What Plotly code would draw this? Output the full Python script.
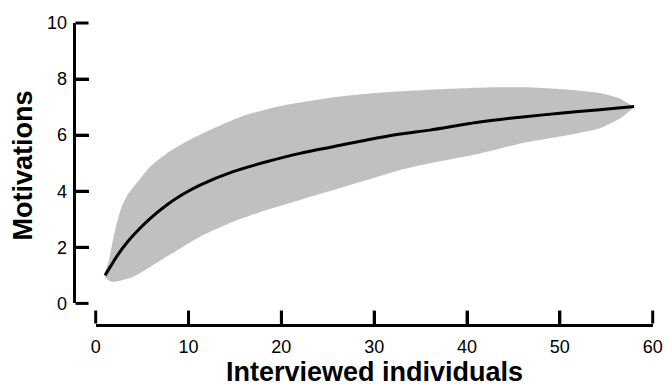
import plotly.graph_objects as go

# Rarefaction curve (mean)
curve_x = [1, 1.6, 2.26, 3.2, 4.05, 5.85, 7.65, 9.44, 11.24, 14.8, 18.4, 22, 25.6, 29.2, 32.8, 36, 41, 46, 50, 54, 58]
curve_y = [1.0, 1.32, 1.67, 2.10, 2.43, 3.02, 3.51, 3.9, 4.22, 4.7, 5.05, 5.35, 5.59, 5.83, 6.04, 6.18, 6.45, 6.65, 6.78, 6.9, 7.02]

# Confidence band
upper_x = [1, 1.4, 1.8, 2.3, 2.8, 3.4, 4.05, 4.8, 5.85, 7.65, 9.44, 12.3, 16, 20, 25, 30, 36, 42, 47, 51, 54.3, 56.5, 58]
upper_y = [1.1, 1.5, 2.15, 2.9, 3.45, 3.85, 4.15, 4.45, 4.87, 5.35, 5.71, 6.18, 6.7, 7.05, 7.32, 7.5, 7.62, 7.7, 7.7, 7.62, 7.5, 7.3, 7.0]
lower_x = [1, 1.5, 2.07, 4.05, 7.65, 11.24, 14.8, 18.4, 22, 25.6, 29.2, 32.8, 36, 41.4, 46, 50, 54.3, 56.5, 58]
lower_y = [0.95, 0.8, 0.77, 0.95, 1.67, 2.38, 2.91, 3.33, 3.69, 4.04, 4.40, 4.76, 5.0, 5.35, 5.72, 5.95, 6.25, 6.6, 7.0]

x_ticks = [0, 10, 20, 30, 40, 50, 60]
y_ticks = [0, 2, 4, 6, 8, 10]

x_title = "Interviewed individuals"
y_title = "Motivations"

# axis geometry
X_RANGE = [0, 60]
Y_RANGE = [0, 10]
X_DOMAIN = [0.0598, 0.9928]
Y_DOMAIN = [0.1, 0.9601]
X_AXIS_POS = 0.0383   # paper y of the (offset) x axis line
Y_AXIS_POS = 0.026    # paper x of the (offset) y axis line
TICK_LEN_PX = 13
PLOT_W = 667 - 60 - 10
PLOT_H = 386 - 10 - 50

band_x = upper_x + lower_x[::-1]
band_y = upper_y + lower_y[::-1]

fig = go.Figure()
fig.add_trace(go.Scatter(
    x=band_x, y=band_y, fill="toself", fillcolor="#c0c0c0",
    mode="lines", line=dict(width=0, color="#c0c0c0", shape="spline", smoothing=0.6),
    hoverinfo="skip", showlegend=False,
))
fig.add_trace(go.Scatter(
    x=curve_x, y=curve_y, mode="lines",
    line=dict(color="black", width=3, shape="spline", smoothing=0.8),
    showlegend=False,
))
# empty helper trace so the offset (hidden) anchor axes exist
fig.add_trace(go.Scatter(x=[], y=[], xaxis="x2", yaxis="y2", showlegend=False, hoverinfo="skip"))

tick_font = dict(family="Liberation Sans, Arial, sans-serif", size=18, color="black")
title_font = dict(family="Liberation Sans, Arial, sans-serif", size=27, color="black", weight="bold")


def x_to_paper(v):
    return X_DOMAIN[0] + (v - X_RANGE[0]) / (X_RANGE[1] - X_RANGE[0]) * (X_DOMAIN[1] - X_DOMAIN[0])


def y_to_paper(v):
    return Y_DOMAIN[0] + (v - Y_RANGE[0]) / (Y_RANGE[1] - Y_RANGE[0]) * (Y_DOMAIN[1] - Y_DOMAIN[0])


# inward tick marks on the offset axes, built from the tick lists
tick_shapes = []
for t in x_ticks:
    xp = x_to_paper(t)
    tick_shapes.append(dict(type="line", xref="paper", yref="paper", x0=xp, x1=xp,
                            y0=X_AXIS_POS, y1=X_AXIS_POS + TICK_LEN_PX / PLOT_H,
                            line=dict(color="black", width=3)))
for t in y_ticks:
    yp = y_to_paper(t)
    tick_shapes.append(dict(type="line", xref="paper", yref="paper", y0=yp, y1=yp,
                            x0=Y_AXIS_POS, x1=Y_AXIS_POS + TICK_LEN_PX / PLOT_W,
                            line=dict(color="black", width=3)))

fig.update_layout(
    width=667, height=386,
    margin=dict(l=60, r=10, t=10, b=50),
    paper_bgcolor="white", plot_bgcolor="rgba(0,0,0,0)",
    template="none",
    xaxis=dict(
        domain=X_DOMAIN, range=X_RANGE,
        anchor="y2",
        tickmode="array", tickvals=x_ticks,
        ticks="inside", ticklen=TICK_LEN_PX, tickwidth=3, tickcolor="black",
        showline=True, linewidth=3, linecolor="black",
        showgrid=False, zeroline=False, automargin=False,
        tickfont=tick_font, ticklabelstandoff=5,
    ),
    yaxis=dict(
        domain=Y_DOMAIN, range=Y_RANGE,
        anchor="x2",
        tickmode="array", tickvals=y_ticks,
        ticks="inside", ticklen=TICK_LEN_PX, tickwidth=3, tickcolor="black",
        showline=True, linewidth=3, linecolor="black",
        showgrid=False, zeroline=False, automargin=False,
        tickfont=tick_font, ticklabelstandoff=2,
    ),
    xaxis2=dict(domain=[Y_AXIS_POS, 1], anchor="y2", visible=False, range=[0, 1]),
    yaxis2=dict(domain=[X_AXIS_POS, 1], anchor="x2", visible=False, range=[0, 1]),
    shapes=tick_shapes,
    annotations=[
        dict(text=x_title, xref="paper", yref="paper", x=0.526, y=-0.111,
             xanchor="center", yanchor="middle", showarrow=False, font=title_font),
        dict(text=y_title, xref="paper", yref="paper", x=-0.062, y=0.523,
             xanchor="center", yanchor="middle", showarrow=False, font=title_font,
             textangle=-90),
    ],
)

fig.write_html("out.html")
